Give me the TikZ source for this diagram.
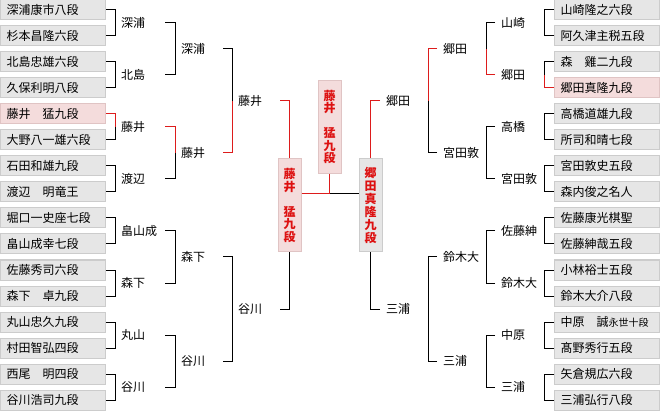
\documentclass[tikz,border=0pt]{standalone}
\usepackage{fontspec}
\setmainfont{Noto Sans CJK JP}
\definecolor{boxfill}{HTML}{E6E6E6}
\definecolor{boxline}{HTML}{CCCCCC}
\definecolor{hifill}{HTML}{F4DCDC}
\definecolor{hiline}{HTML}{E0C4C4}
\definecolor{lred}{HTML}{DD1C1C}
\definecolor{tred}{HTML}{DD1111}
\newcommand{\lbl}[2]{\makebox[#1][l]{\hspace{6pt}#2}}
\begin{document}
\begin{tikzpicture}[x=1pt,y=-1pt,
  box/.style={draw=boxline, fill=boxfill, line width=1pt, minimum height=20pt,
    text width=93pt, inner xsep=6pt, inner ysep=0pt, align=left,
    text height=9.2pt, text depth=0pt, font=\fontsize{12}{14}\selectfont},
  hibox/.style={box, draw=hiline, fill=hifill},
  lab/.style={inner sep=0pt, anchor=west, text height=9.2pt, text depth=0pt,
    font=\fontsize{12}{14}\selectfont},
  lnk/.style={line width=1pt, draw=black},
  win/.style={line width=1pt, draw=lred},
  vbox/.style={line width=1pt, minimum width=23pt, minimum height=93pt,
    inner sep=0pt, align=center, text=tred},
  vhi/.style={vbox, draw=hiline, fill=hifill},
  vgray/.style={vbox, draw=boxline, fill=boxfill}
]
\useasboundingbox (0,0) rectangle (660,411);

% left boxes
\node[box]   (L1)  at (53,10)  {深浦康市八段};
\node[box]   (L2)  at (53,36)  {杉本昌隆六段};
\node[box]   (L3)  at (53,62)  {北島忠雄六段};
\node[box]   (L4)  at (53,88)  {久保利明八段};
\node[hibox] (L5)  at (53,114) {藤井　猛九段};
\node[box]   (L6)  at (53,140) {大野八一雄六段};
\node[box]   (L7)  at (53,166) {石田和雄九段};
\node[box]   (L8)  at (53,192) {渡辺　明竜王};
\node[box]   (L9)  at (53,218) {堀口一史座七段};
\node[box]   (L10) at (53,244) {畠山成幸七段};
\node[box]   (L11) at (53,270) {佐藤秀司六段};
\node[box]   (L12) at (53,296) {森下　卓九段};
\node[box]   (L13) at (53,322) {丸山忠久九段};
\node[box]   (L14) at (53,348) {村田智弘四段};
\node[box]   (L15) at (53,374) {西尾　明四段};
\node[box]   (L16) at (53,400) {谷川浩司九段};

% right boxes
\node[box]   (R1)  at (607,10)  {山崎隆之六段};
\node[box]   (R2)  at (607,36)  {阿久津主税五段};
\node[box]   (R3)  at (607,62)  {森　雞二九段};
\node[hibox] (R4)  at (607,88)  {郷田真隆九段};
\node[box]   (R5)  at (607,114) {高橋道雄九段};
\node[box]   (R6)  at (607,140) {所司和晴七段};
\node[box]   (R7)  at (607,166) {宮田敦史五段};
\node[box]   (R8)  at (607,192) {森内俊之名人};
\node[box]   (R9)  at (607,218) {佐藤康光棋聖};
\node[box]   (R10) at (607,244) {佐藤紳哉五段};
\node[box]   (R11) at (607,270) {小林裕士五段};
\node[box]   (R12) at (607,296) {鈴木大介八段};
\node[box]   (R13) at (607,322) {中原　誠{\fontsize{10}{10}\selectfont 永世十段}};
\node[box]   (R14) at (607,348) {髙野秀行五段};
\node[box]   (R15) at (607,374) {矢倉規広六段};
\node[box]   (R16) at (607,400) {三浦弘行八段};

% left labels
\node[lab] (la1) at (115,23)  {\lbl{50pt}{深浦}};
\node[lab] (la2) at (115,75)  {\lbl{50pt}{北島}};
\node[lab] (la3) at (115,127) {\lbl{50pt}{藤井}};
\node[lab] (la4) at (115,179) {\lbl{50pt}{渡辺}};
\node[lab] (la5) at (115,231) {\lbl{50pt}{畠山成}};
\node[lab] (la6) at (115,283) {\lbl{50pt}{森下}};
\node[lab] (la7) at (115,335) {\lbl{50pt}{丸山}};
\node[lab] (la8) at (115,387) {\lbl{50pt}{谷川}};
\node[lab] (lb1) at (175,49)  {\lbl{48pt}{深浦}};
\node[lab] (lb2) at (175,153) {\lbl{48pt}{藤井}};
\node[lab] (lb3) at (175,257) {\lbl{48pt}{森下}};
\node[lab] (lb4) at (175,361) {\lbl{48pt}{谷川}};
\node[lab] (lc1) at (232,101) {\lbl{48pt}{藤井}};
\node[lab] (lc2) at (232,309) {\lbl{48pt}{谷川}};

% right labels
\node[lab] (ra1) at (495,23)  {\lbl{49pt}{山崎}};
\node[lab] (ra2) at (495,75)  {\lbl{49pt}{郷田}};
\node[lab] (ra3) at (495,127) {\lbl{49pt}{高橋}};
\node[lab] (ra4) at (495,179) {\lbl{49pt}{宮田敦}};
\node[lab] (ra5) at (495,231) {\lbl{49pt}{佐藤紳}};
\node[lab] (ra6) at (495,283) {\lbl{49pt}{鈴木大}};
\node[lab] (ra7) at (495,335) {\lbl{49pt}{中原}};
\node[lab] (ra8) at (495,387) {\lbl{49pt}{三浦}};
\node[lab] (rb1) at (437,49)  {\lbl{49pt}{郷田}};
\node[lab] (rb2) at (437,153) {\lbl{49pt}{宮田敦}};
\node[lab] (rb3) at (437,257) {\lbl{49pt}{鈴木大}};
\node[lab] (rb4) at (437,361) {\lbl{49pt}{三浦}};
\node[lab] (rc1) at (380,101) {\lbl{48pt}{郷田}};
\node[lab] (rc2) at (380,309) {\lbl{48pt}{三浦}};

% final boxes
\node[vhi, font=\fontsize{12}{12.5}\selectfont\bfseries] (champ) at (329.5,127) {藤\\井\\[12.5pt]猛\\九\\段};
\node[vhi, font=\fontsize{12}{12.5}\selectfont\bfseries] (semiL) at (289.5,205.5) {藤\\井\\[12.5pt]猛\\九\\段};
\node[vgray, font=\fontsize{12}{13}\selectfont\bfseries] (semiR) at (370.5,205.5) {郷\\田\\真\\隆\\九\\段};
\coordinate (cj) at (329.5,194);

% left round 1
\draw[lnk] (L1.east) -| (la1.west);  \draw[lnk] (L2.east) -| (la1.west);
\draw[lnk] (L3.east) -| (la2.west);  \draw[lnk] (L4.east) -| (la2.west);
\draw[lnk] (L6.east) -| (la3.west);  \draw[win] (L5.east) -| (la3.west);
\draw[lnk] (L7.east) -| (la4.west);  \draw[lnk] (L8.east) -| (la4.west);
\draw[lnk] (L9.east) -| (la5.west);  \draw[lnk] (L10.east) -| (la5.west);
\draw[lnk] (L11.east) -| (la6.west); \draw[lnk] (L12.east) -| (la6.west);
\draw[lnk] (L13.east) -| (la7.west); \draw[lnk] (L14.east) -| (la7.west);
\draw[lnk] (L15.east) -| (la8.west); \draw[lnk] (L16.east) -| (la8.west);
% left round 2
\draw[lnk] (la1.east) -| (lb1.west); \draw[lnk] (la2.east) -| (lb1.west);
\draw[lnk] (la4.east) -| (lb2.west); \draw[win] (la3.east) -| (lb2.west);
\draw[lnk] (la5.east) -| (lb3.west); \draw[lnk] (la6.east) -| (lb3.west);
\draw[lnk] (la7.east) -| (lb4.west); \draw[lnk] (la8.east) -| (lb4.west);
% left round 3
\draw[lnk] (lb1.east) -| (lc1.west); \draw[win] (lb2.east) -| (lc1.west);
\draw[lnk] (lb3.east) -| (lc2.west); \draw[lnk] (lb4.east) -| (lc2.west);
% left semi
\draw[win] (lc1.east) -| (semiL.north);
\draw[lnk] (lc2.east) -| (semiL.south);

% right round 1
\draw[lnk] (R1.west) -| (ra1.east);  \draw[lnk] (R2.west) -| (ra1.east);
\draw[lnk] (R3.west) -| (ra2.east);  \draw[win] (R4.west) -| (ra2.east);
\draw[lnk] (R5.west) -| (ra3.east);  \draw[lnk] (R6.west) -| (ra3.east);
\draw[lnk] (R7.west) -| (ra4.east);  \draw[lnk] (R8.west) -| (ra4.east);
\draw[lnk] (R9.west) -| (ra5.east);  \draw[lnk] (R10.west) -| (ra5.east);
\draw[lnk] (R11.west) -| (ra6.east); \draw[lnk] (R12.west) -| (ra6.east);
\draw[lnk] (R13.west) -| (ra7.east); \draw[lnk] (R14.west) -| (ra7.east);
\draw[lnk] (R15.west) -| (ra8.east); \draw[lnk] (R16.west) -| (ra8.east);
% right round 2
\draw[lnk] (ra1.west) -| (rb1.east); \draw[win] (ra2.west) -| (rb1.east);
\draw[lnk] (ra3.west) -| (rb2.east); \draw[lnk] (ra4.west) -| (rb2.east);
\draw[lnk] (ra5.west) -| (rb3.east); \draw[lnk] (ra6.west) -| (rb3.east);
\draw[lnk] (ra7.west) -| (rb4.east); \draw[lnk] (ra8.west) -| (rb4.east);
% right round 3
\draw[lnk] (rb2.west) -| (rc1.east); \draw[win] (rb1.west) -| (rc1.east);
\draw[lnk] (rb3.west) -| (rc2.east); \draw[lnk] (rb4.west) -| (rc2.east);
% right semi
\draw[win] (rc1.west) -| (semiR.north);
\draw[lnk] (rc2.west) -| (semiR.south);

% final
\draw[lnk] (cj) -- (semiR.west |- cj);
\draw[win] (semiL.east |- cj) -- (cj);
\draw[win] (champ.south) -- (cj);
\end{tikzpicture}
\end{document}
